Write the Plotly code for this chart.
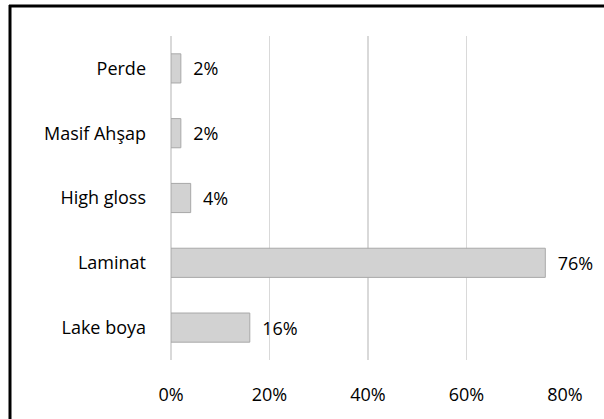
import plotly.graph_objects as go

categories = ["Lake boya", "Laminat", "High gloss", "Masif Ahşap", "Perde"]
values = [16, 76, 4, 2, 2]
labels = ["16%", "76%", "4%", "2%", "2%"]
x_ticks = [0, 20, 40, 60, 80]
x_tick_labels = ["0%", "20%", "40%", "60%", "80%"]

font_family = "Open Sans"
fs = 18

fig = go.Figure()
fig.add_trace(go.Bar(
    y=categories,
    x=values,
    orientation="h",
    text=labels,
    texttemplate="  %{text}",
    textposition="outside",
    cliponaxis=False,
    constraintext="none",
    textfont=dict(size=fs, color="#000000", family=font_family),
    marker=dict(color="#d2d2d2", line=dict(color="#a8a8a8", width=1)),
    width=0.45,
    hoverinfo="skip",
))

# plot-area pixel bounds
L, R, T, B = 171, 565, 36, 360
def px(x):
    return (x - L) / (R - L)
def py(y):
    return (B - y) / (B - T)

fig.update_layout(
    width=604,
    height=419,
    margin=dict(l=L, r=604 - R, t=T, b=419 - B),
    paper_bgcolor="white",
    plot_bgcolor="white",
    showlegend=False,
    font=dict(family=font_family, size=fs, color="#000000"),
    xaxis=dict(
        range=[0, 80],
        tickvals=x_ticks,
        ticktext=x_tick_labels,
        showgrid=True,
        gridcolor="#d9d9d9",
        gridwidth=1.5,
        zeroline=True,
        zerolinecolor="#d9d9d9",
        zerolinewidth=1.5,
        showline=False,
        ticks="",
        ticklabelstandoff=22,
        tickfont=dict(size=fs, family=font_family),
        fixedrange=True,
    ),
    yaxis=dict(
        categoryorder="array",
        categoryarray=categories,
        showgrid=False,
        zeroline=False,
        showline=False,
        ticks="",
        ticklabelstandoff=24,
        tickfont=dict(size=fs, family=font_family),
        fixedrange=True,
    ),
    shapes=[
        dict(type="line", xref="paper", yref="paper",
             x0=px(10), x1=px(10), y0=py(5), y1=py(425),
             line=dict(color="#000000", width=3)),
        dict(type="line", xref="paper", yref="paper",
             x0=px(9), x1=px(610), y0=py(6), y1=py(6),
             line=dict(color="#000000", width=3)),
    ],
)

fig.write_html(
    "out.html",
    config={"displayModeBar": False, "staticPlot": True},
    post_script=(
        "document.body.style.margin='0';"
        "document.body.style.padding='0';"
        "document.body.style.overflow='hidden';"
        "document.documentElement.style.overflow='hidden';"
    ),
)
